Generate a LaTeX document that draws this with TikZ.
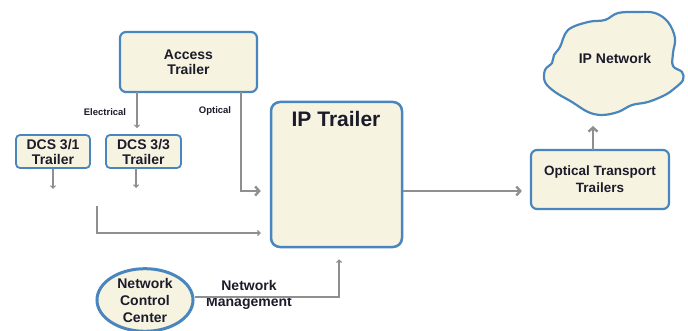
\documentclass[tikz,border=0pt]{standalone}
\usepackage{fontspec}
\setmainfont{Liberation Sans}
\usetikzlibrary{shapes.geometric,arrows.meta}
\definecolor{boxfill}{HTML}{F7F3E1}
\definecolor{boxline}{HTML}{4A86BE}
\definecolor{conn}{HTML}{8F8F8F}
\definecolor{txt}{HTML}{1B1B2A}
\tikzset{
  box/.style={draw=boxline, fill=boxfill, line width=2.2pt, rounded corners=6pt,
    inner sep=0pt, align=center, text=txt, font=\bfseries},
  big/.style={font=\bfseries\fontsize{14}{15}\selectfont},
  thinarrow/.style={draw=conn, line width=1.1pt, -{Straight Barb[length=2.5pt,width=5pt]}},
  thickarrow/.style={draw=conn, line width=2.4pt, -{Straight Barb[length=4pt,width=9pt]}},
  small/.style={text=txt, font=\bfseries\fontsize{9.5}{10}\selectfont},
}
\begin{document}
\begin{tikzpicture}[x=1pt,y=-1pt]
\useasboundingbox (0,0) rectangle (688,331);
% cloud outline
\draw[draw=boxline, fill=boxfill, line width=2.2pt]
  plot[smooth cycle, tension=0.6] coordinates {(560,47) (568,30) (588,22) (605,20) (618,13) (638,12) (655,13) (668,22) (675,38) (673,53) (673,66) (682,72) (683,80) (675,88) (665,95) (648,102) (632,105) (618,112) (602,115) (588,112) (572,102) (555,92) (545,82) (545,70) (552,63) (554,55)};
% nodes
\node[box, big, minimum width=137pt, minimum height=60pt] (access) at (188.5,62) {Access\\Trailer};
\node[box, big, rounded corners=4pt, line width=1.8pt, minimum width=74pt, minimum height=33pt] (dcs31) at (53,151.5) {DCS 3/1\\Trailer};
\node[box, big, rounded corners=4pt, line width=1.8pt, minimum width=75pt, minimum height=33pt] (dcs33) at (143.5,151.5) {DCS 3/3\\Trailer};
\node[box, minimum width=131pt, minimum height=145pt, rounded corners=9pt, line width=2.5pt] (ip) at (336.5,174.5) {};
\node[text=txt, font=\bfseries\fontsize{21}{23}\selectfont] (iplabel) at (336,119) {IP Trailer};
\node[box, big, font=\bfseries\fontsize{13.5}{17}\selectfont, minimum width=138pt, minimum height=59pt] (ott) at (600,179.5) {Optical Transport\\Trailers};
\node[text=txt, big] (cloudlabel) at (615,58) {IP Network};
\node[box, ellipse, font=\bfseries\fontsize{14}{17}\selectfont, line width=3pt, minimum width=96pt, minimum height=60pt] (ncc) at (145,300) {Network\\Control\\Center};
% labels
\node[small] (elec) at (105,112) {Electrical};
\node[small] (opt) at (215,111) {Optical};
\node[text=txt, align=center, font=\bfseries\fontsize{14}{16}\selectfont] (nm) at (249,295) {Network\\Management};
% coordinates
\coordinate (e1) at (137,92);
\coordinate (o1) at (241,92);
\coordinate (o2) at (241,191);
\coordinate (d3) at (136,168);
\coordinate (l1) at (97,206);
\coordinate (l2) at (97,233);
\coordinate (m1) at (402,191);
\coordinate (u1) at (593,150);
\coordinate (u2) at (593,126);
\coordinate (n1) at (339,297);
% connectors
\draw[thinarrow, shorten >=6pt] (e1) -- (e1 |- dcs33.north);
\draw[thickarrow, shorten >=9pt] (o1) -- (o2) -- (ip.west |- o2);
\draw[thinarrow] (dcs31.south) -- ++(0,20);
\draw[thinarrow] (d3) -- ++(0,20);
\draw[thinarrow, shorten >=9pt] (l1) -- (l2) -- (ip.west |- l2);
\draw[thickarrow, shorten >=8pt] (ip.east |- m1) -- (ott.west |- m1);
\draw[thickarrow] (u1) -- (u2);
\draw[thinarrow, shorten >=11pt] (ncc.east |- n1) -- (n1) -- (n1 |- ip.south);
\end{tikzpicture}
\end{document}
